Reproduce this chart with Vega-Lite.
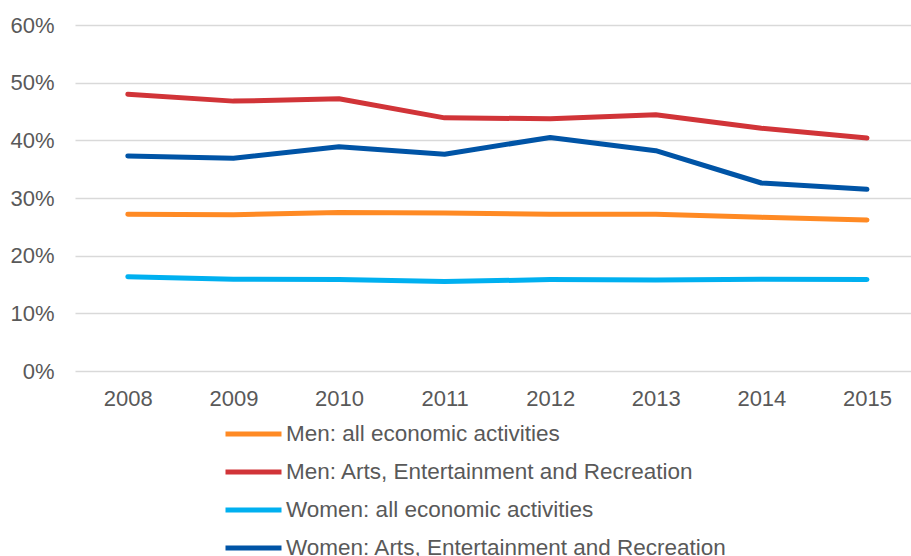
{
  "$schema": "https://vega.github.io/schema/vega-lite/v6.json",
  "width": 836,
  "height": 346,
  "autosize": {"type": "none"},
  "padding": {"left": 75, "top": 25, "right": 0, "bottom": 185},
  "background": "white",
  "config": {
    "view": {"stroke": null},
    "font": "Liberation Sans"
  },
  "data": {
    "values": [
      {"year": 2008, "series": "Men: all economic activities", "value": 0.272},
      {"year": 2009, "series": "Men: all economic activities", "value": 0.271},
      {"year": 2010, "series": "Men: all economic activities", "value": 0.275},
      {"year": 2011, "series": "Men: all economic activities", "value": 0.274},
      {"year": 2012, "series": "Men: all economic activities", "value": 0.272},
      {"year": 2013, "series": "Men: all economic activities", "value": 0.272},
      {"year": 2014, "series": "Men: all economic activities", "value": 0.2665},
      {"year": 2015, "series": "Men: all economic activities", "value": 0.262},
      {"year": 2008, "series": "Men: Arts, Entertainment and Recreation", "value": 0.480},
      {"year": 2009, "series": "Men: Arts, Entertainment and Recreation", "value": 0.468},
      {"year": 2010, "series": "Men: Arts, Entertainment and Recreation", "value": 0.472},
      {"year": 2011, "series": "Men: Arts, Entertainment and Recreation", "value": 0.439},
      {"year": 2012, "series": "Men: Arts, Entertainment and Recreation", "value": 0.4375},
      {"year": 2013, "series": "Men: Arts, Entertainment and Recreation", "value": 0.4445},
      {"year": 2014, "series": "Men: Arts, Entertainment and Recreation", "value": 0.421},
      {"year": 2015, "series": "Men: Arts, Entertainment and Recreation", "value": 0.404},
      {"year": 2008, "series": "Women: all economic activities", "value": 0.1635},
      {"year": 2009, "series": "Women: all economic activities", "value": 0.159},
      {"year": 2010, "series": "Women: all economic activities", "value": 0.1585},
      {"year": 2011, "series": "Women: all economic activities", "value": 0.155},
      {"year": 2012, "series": "Women: all economic activities", "value": 0.1585},
      {"year": 2013, "series": "Women: all economic activities", "value": 0.158},
      {"year": 2014, "series": "Women: all economic activities", "value": 0.159},
      {"year": 2015, "series": "Women: all economic activities", "value": 0.1585},
      {"year": 2008, "series": "Women: Arts, Entertainment and Recreation", "value": 0.373},
      {"year": 2009, "series": "Women: Arts, Entertainment and Recreation", "value": 0.369},
      {"year": 2010, "series": "Women: Arts, Entertainment and Recreation", "value": 0.389},
      {"year": 2011, "series": "Women: Arts, Entertainment and Recreation", "value": 0.376},
      {"year": 2012, "series": "Women: Arts, Entertainment and Recreation", "value": 0.405},
      {"year": 2013, "series": "Women: Arts, Entertainment and Recreation", "value": 0.382},
      {"year": 2014, "series": "Women: Arts, Entertainment and Recreation", "value": 0.326},
      {"year": 2015, "series": "Women: Arts, Entertainment and Recreation", "value": 0.315}
    ]
  },
  "mark": {"type": "line", "strokeWidth": 5, "strokeCap": "round", "strokeJoin": "round"},
  "encoding": {
    "x": {
      "field": "year",
      "type": "quantitative",
      "scale": {"domain": [2007.5, 2015.417], "nice": false, "zero": false},
      "axis": {
        "title": null,
        "values": [2008, 2009, 2010, 2011, 2012, 2013, 2014, 2015],
        "format": "d",
        "grid": false,
        "domain": false,
        "ticks": false,
        "labelFontSize": 22,
        "labelColor": "#595959",
        "labelPadding": 17,
        "labelFlush": false
      }
    },
    "y": {
      "field": "value",
      "type": "quantitative",
      "scale": {"domain": [0, 0.6], "nice": false},
      "axis": {
        "title": null,
        "values": [0, 0.1, 0.2, 0.3, 0.4, 0.5, 0.6],
        "format": ".0%",
        "domain": false,
        "ticks": false,
        "grid": true,
        "gridColor": "#d9d9d9",
        "gridWidth": 1.5,
        "labelFontSize": 22,
        "labelColor": "#595959",
        "labelPadding": 21
      }
    },
    "color": {
      "field": "series",
      "type": "nominal",
      "scale": {
        "domain": [
          "Men: all economic activities",
          "Men: Arts, Entertainment and Recreation",
          "Women: all economic activities",
          "Women: Arts, Entertainment and Recreation"
        ],
        "range": ["#FF8A24", "#D13438", "#00B0F0", "#0054A6"]
      },
      "legend": {
        "title": null,
        "orient": "none",
        "legendX": 148,
        "legendY": 390,
        "direction": "vertical",
        "symbolType": "stroke",
        "symbolSize": 3136,
        "symbolStrokeWidth": 5,
        "clipHeight": 38,
        "labelFontSize": 22.5,
        "labelColor": "#595959",
        "labelOffset": 2,
        "rowPadding": 0,
        "labelLimit": 700
      }
    }
  }
}
